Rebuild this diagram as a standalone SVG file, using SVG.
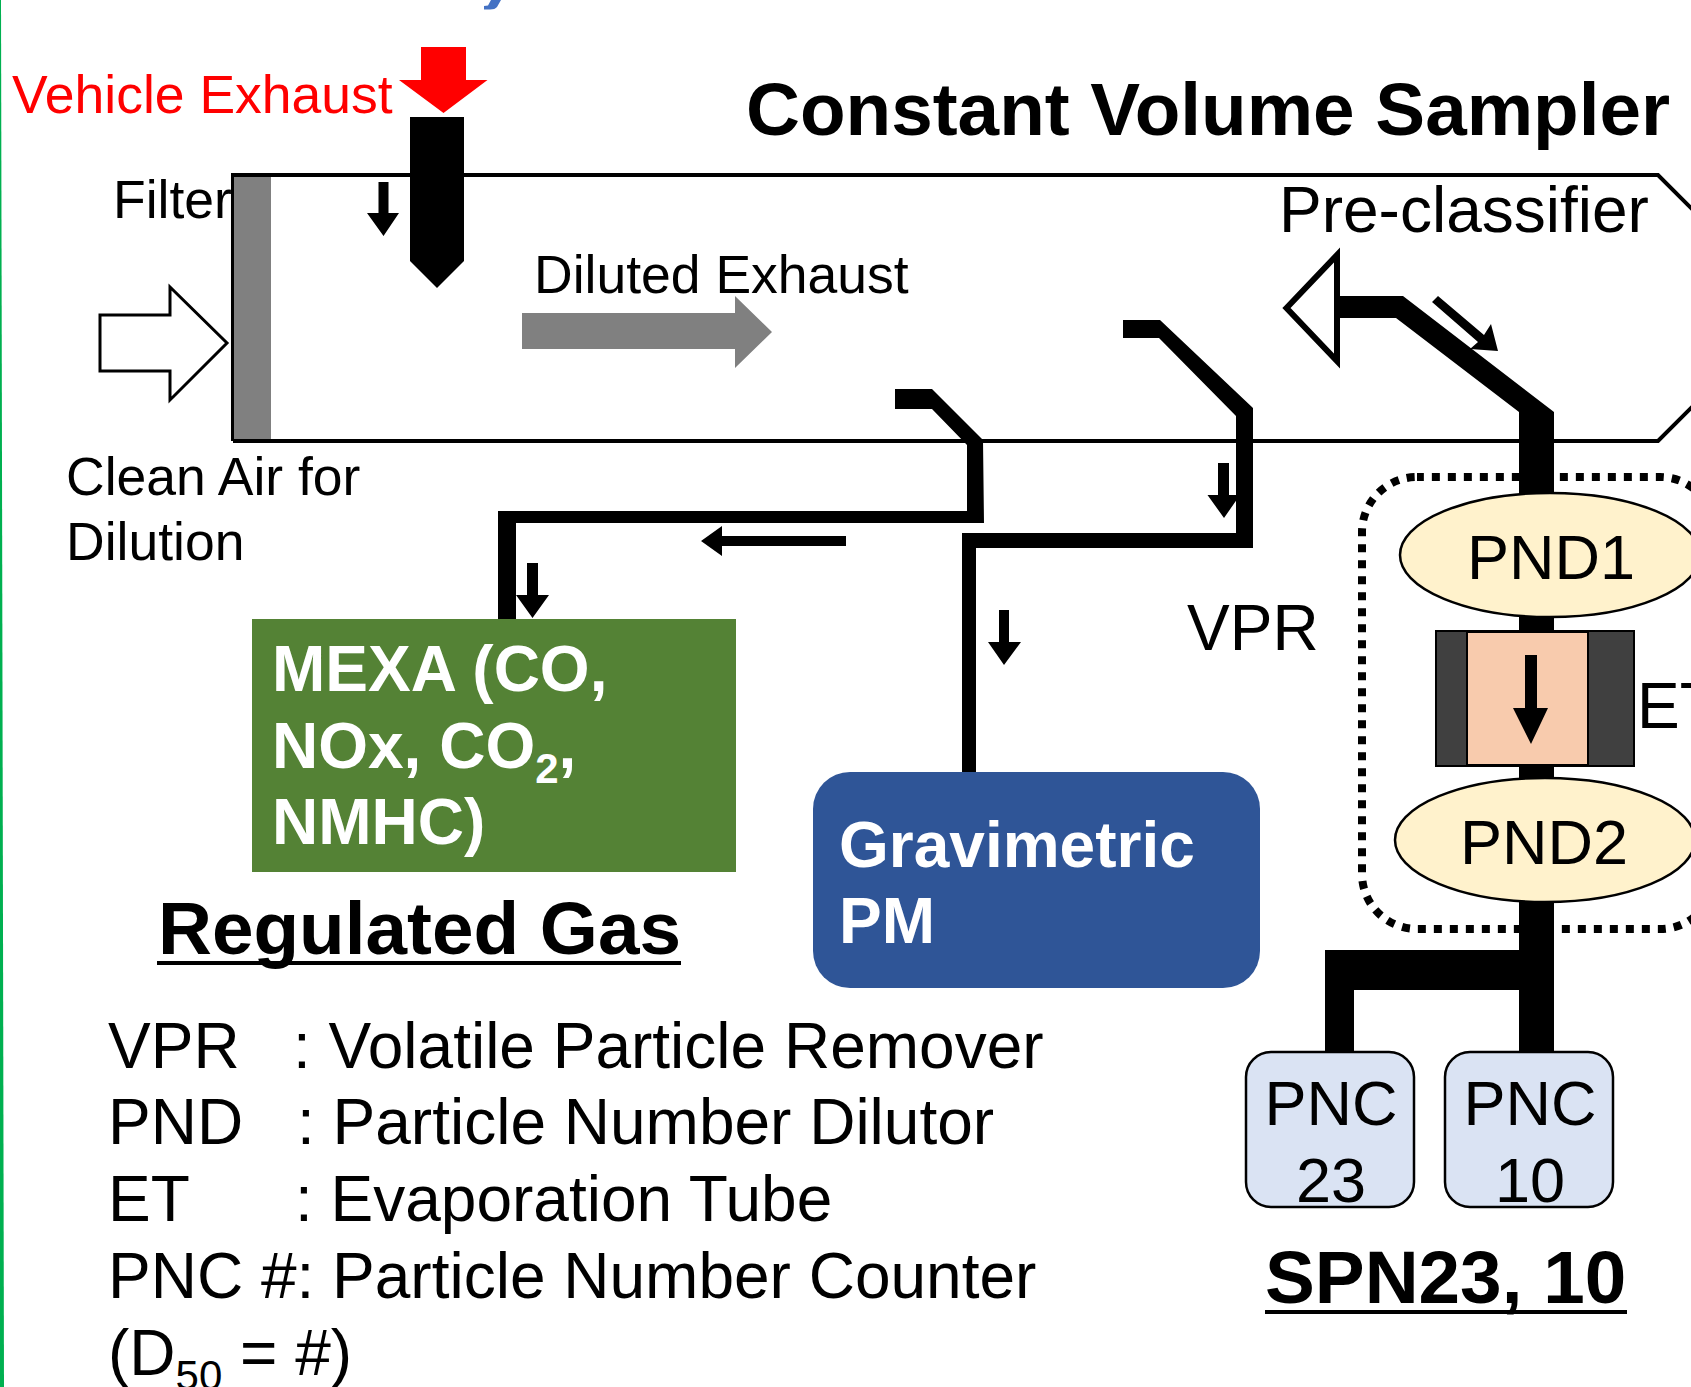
<svg xmlns="http://www.w3.org/2000/svg" width="1691" height="1387" viewBox="0 0 1691 1387">
<style>
text{font-family:"Liberation Sans",Arial,sans-serif;fill:#000}
.s53{font-size:53.500px}
.s63{font-size:64px}
.pn{font-size:63px}
.w{fill:#fff;font-weight:700;font-size:64px}
.big{font-weight:700;font-size:74.700px}
.k{fill:#000}
.nd{stroke:#000;stroke-width:2.500}
.dot{fill:none;stroke:#000;stroke-width:8;stroke-dasharray:8 8}
</style>
<rect width="1691" height="1387" fill="#fff"/>
<polygon points="0,0 1,0 4,1387 0,1387" fill="#00b050"/>
<path d="M491,0H501L497,7Q495,9.500 490,9.500H484V6L488,5.500Z" fill="#4472c4"/>
<g id="chamber">
<path d="M233,441V175H1658L1700,217M1700,399L1658,441H233" fill="none" stroke="#000" stroke-width="4"/>
<rect x="234" y="177" width="37" height="262" fill="#808080"/>
</g>
<g id="connectors">
<polygon class="k" points="895,389 932,389 983,440 984,523 498,523 498,511 967,511 967,445 932,409 895,409"/>
<polygon class="k" points="498,511 516,511 516,619 498,619"/>
<polygon class="k" points="1123,320 1160,320 1253,408 1253,548 976,548 976,772 962,772 962,533 1236,533 1236,416 1159,338 1123,338"/>
<polygon class="k" points="1340,296 1403,296 1554,412 1554,495 1519,495 1519,412 1396,318 1340,318"/>
<rect class="k" x="1519" y="610" width="35" height="25"/>
<rect class="k" x="1519" y="762" width="35" height="20"/>
<polygon class="k" points="1519,900 1554,900 1554,1054 1519,1054 1519,990 1354,990 1354,1054 1325,1054 1325,950 1519,950"/>
<polygon points="421,47 466,47 466,80 487.500,80 443.500,113 399,80 421,80" fill="#f00"/>
<polygon class="k" points="410,117 464,117 464,261 437,288 410,261"/>
<polygon class="k" points="378.500,182 388.500,182 388.500,213 399,213 383.500,236 367,213 378.500,213"/>
<polygon class="k" points="527,563 538,563 538,595 549,595 532.500,618 516,595 527,595"/>
<polygon class="k" points="999,610 1009,610 1009,642 1021,642 1004,665 988,642 999,642"/>
<polygon class="k" points="1218,463 1229,463 1229,495 1240,495 1224,518 1207.500,495 1218,495"/>
<polygon class="k" points="846,536 846,546 722,546 722,556 701,541 722,526 722,536"/>
<polygon class="k" points="1432,302 1438,296 1484,335 1491,324 1498,351 1470,349 1478,342"/>
</g>
<g id="clean-air-arrow"><polygon points="100,315 170,315 170,287 227,343 170,400 170,371 100,371" fill="#fff" stroke="#000" stroke-width="3"/></g>
<g id="diluted-arrow"><polygon points="522,313 735,313 735,296 772,332 735,368 735,349 522,349" fill="#808080"/></g>
<g id="pre-classifier"><polygon points="1286.500,308 1337,255 1337,361" fill="#fff" stroke="#000" stroke-width="6"/></g>
<g id="vpr-boundary">
<path class="dot" stroke-dashoffset="13.600" d="M1715,532A55,55 0 0 0 1660,477H1417"/>
<path class="dot" stroke-dashoffset="13.600" d="M1417,477A55,55 0 0 0 1362,532V874"/>
<path class="dot" stroke-dashoffset="15.600" d="M1715,874A55,55 0 0 1 1660,929H1417A55,55 0 0 1 1362,874"/>
</g>
<rect class="k" x="1519" y="470" width="35" height="25"/>
<rect class="k" x="1519" y="905" width="35" height="40"/>
<g id="pnd1"><ellipse class="nd" cx="1550" cy="555" rx="150" ry="62" fill="#fff2cc"/><text class="pn" x="1551" y="579" text-anchor="middle">PND1</text></g>
<g id="et">
<rect x="1436" y="631" width="198" height="135" fill="#404040" stroke="#000" stroke-width="2"/>
<rect x="1467" y="632" width="121" height="133" fill="#f8cbad" stroke="#000" stroke-width="2"/>
<polygon class="k" points="1525,655 1537,655 1537,708 1548,708 1531,744 1513,708 1525,708"/>
<text class="s63" x="1637" y="728">ET</text>
</g>
<g id="pnd2"><ellipse class="nd" cx="1545" cy="840" rx="150" ry="62" fill="#fff2cc"/><text class="pn" x="1544" y="864" text-anchor="middle">PND2</text></g>
<g id="pnc23"><rect class="nd" x="1246" y="1052" width="168" height="155" rx="25" fill="#dae3f3"/><text class="pn" x="1331" y="1125" text-anchor="middle">PNC</text><text class="pn" x="1331" y="1202" text-anchor="middle">23</text></g>
<g id="pnc10"><rect class="nd" x="1445" y="1052" width="168" height="155" rx="25" fill="#dae3f3"/><text class="pn" x="1530" y="1125" text-anchor="middle">PNC</text><text class="pn" x="1530" y="1202" text-anchor="middle">10</text></g>
<g id="mexa"><rect x="252" y="619" width="484" height="253" fill="#548235"/>
<text class="w" x="272" y="691">MEXA (CO,</text>
<text class="w" x="272" y="768">NOx, CO<tspan dy="15" style="font-size:42px">2</tspan><tspan dy="-15">,</tspan></text>
<text class="w" x="272" y="844">NMHC)</text></g>
<g id="gravimetric"><rect x="813" y="772" width="447" height="216" rx="37" fill="#2f5597"/>
<text class="w" x="839" y="867">Gravimetric</text>
<text class="w" x="839" y="943">PM</text></g>
<g id="labels">
<text class="s53" x="12" y="113" style="fill:#f00">Vehicle Exhaust</text>
<text class="big" x="746" y="135">Constant Volume Sampler</text>
<text class="s53" x="113" y="218">Filter</text>
<text class="s53" x="534" y="293">Diluted Exhaust</text>
<text class="s53" x="66" y="495">Clean Air for</text>
<text class="s53" x="66" y="560">Dilution</text>
<text class="s63" x="1279" y="232">Pre-classifier</text>
<text class="s63" x="1187" y="650">VPR</text>
<text class="big" x="158" y="954">Regulated Gas</text>
<rect class="k" x="157" y="961" width="524" height="4"/>
<text class="big" x="1265" y="1303">SPN23, 10</text>
<rect class="k" x="1265" y="1310" width="362" height="4"/>
</g>
<g id="legend">
<text class="s63" x="108" y="1068">VPR</text><text class="s63" x="293" y="1068">: Volatile Particle Remover</text>
<text class="s63" x="108" y="1144">PND</text><text class="s63" x="297" y="1144">: Particle Number Dilutor</text>
<text class="s63" x="108" y="1221">ET</text><text class="s63" x="295" y="1221">: Evaporation Tube</text>
<text class="s63" x="108" y="1298">PNC #: Particle Number Counter</text>
<text class="s63" x="108" y="1375">(D<tspan dy="15" style="font-size:42px">50</tspan><tspan dy="-15"> = #)</tspan></text>
</g>
</svg>
